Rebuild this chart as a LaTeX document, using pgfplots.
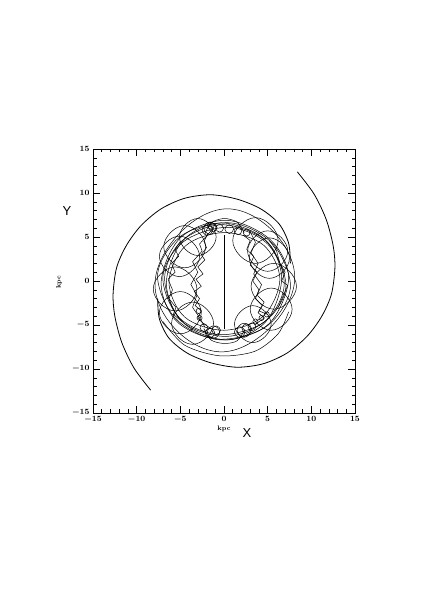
\documentclass[border=0pt]{standalone}
\usepackage{fontspec}
\usepackage{pgfplots}
\pgfplotsset{compat=1.18}
\newfontfamily\lsans{Liberation Sans}
\begin{document}
\begin{tikzpicture}
\path[use as bounding box] (0,0) rectangle (436pt,616pt);
\begin{axis}[
  at={(93pt,203pt)}, anchor=south west,
  scale only axis, width=262pt, height=264pt,
  xmin=-15, xmax=15, ymin=-15, ymax=15,
  xtick={-15,-10,...,15}, ytick={-15,-10,...,15},
  minor tick num=4, tick align=inside,
  major tick length=7pt, minor tick length=3.5pt,
  tick style={black, line width=0.5pt},
  axis line style={line width=0.6pt},
  tick label style={font=\fontsize{8.5}{9}\selectfont\boldmath},
  cycle list={{black, solid, line width=0.5pt}},
  every axis plot/.append style={black, line width=0.5pt},
  no markers,
]
% spiral arms
\addplot[smooth, line width=0.8pt] coordinates {(-8.4,-12.4) (-10.3,-9.9) (-11.7,-7.0) (-12.5,-4.0) (-12.7,-1.5) (-12.3,1.5) (-11.2,4.0) (-9.5,6.3) (-7.2,8.2) (-4.5,9.4) (-1.5,9.8) (1.5,9.3) (4.2,8.2) (6.3,6.5) (7.4,4.3) (7.6,2.0)};
\addplot[smooth, line width=0.8pt] coordinates {(8.4,12.4) (10.3,9.9) (11.7,7.0) (12.5,4.0) (12.7,1.5) (12.3,-1.5) (11.2,-4.0) (9.5,-6.3) (7.2,-8.2) (4.5,-9.4) (1.5,-9.8) (-1.5,-9.3) (-4.2,-8.2) (-6.3,-6.5) (-7.4,-4.3) (-7.6,-2.0)};
% outer loop
\addplot[smooth cycle, tension=0.83] coordinates {(8.1,0.3) (0.2,8.2) (-7.9,-0.3) (-0.1,-8.05)};
\addplot[smooth] coordinates {(-7.0,-4.6) (-4.5,-7.3) (-0.5,-8.5) (3.5,-8.0) (6.2,-6.0) (7.4,-3.5)};
% ring ovals
\addplot[smooth cycle, tension=0.56] coordinates {(7.4,0.3) (5.3,4.7) (0.2,6.9) (-5.0,4.9) (-7.2,-0.2) (-5.3,-4.7) (-0.2,-6.7) (5.1,-4.9)};
\addplot[smooth cycle, tension=0.56] coordinates {(6.9,-0.3) (4.9,4.5) (-0.3,6.4) (-5.0,4.4) (-6.8,0.2) (-4.8,-4.6) (0.3,-6.3) (4.9,-4.4)};
\addplot[smooth cycle, tension=0.56] coordinates {(6.4,0.2) (4.5,4.1) (0,5.5) (-4.4,4.0) (-6.3,-0.1) (-4.5,-4.1) (0,-5.6) (4.5,-4.0)};
\addplot[smooth cycle, tension=0.56] coordinates {(7.1,-0.6) (5.0,4.2) (0.5,6.1) (-4.6,4.5) (-7.0,0.5) (-5.1,-4.2) (-0.4,-6.1) (4.7,-4.6)};
\addplot[smooth cycle, tension=0.56] coordinates {(6.6,0.4) (4.6,4.8) (-0.4,6.6) (-4.7,4.6) (-6.6,-0.3) (-4.6,-4.8) (0.4,-6.7) (4.8,-4.6)};
\addplot[smooth cycle, tension=0.56] coordinates {(7.6,-0.8) (5.6,4.2) (0.8,6.6) (-4.8,5.2) (-7.6,0.8) (-5.6,-4.2) (-0.8,-6.6) (4.8,-5.2)};
% large loops
\addplot[smooth cycle, tension=0.83] coordinates {(-3.1,-0.9) (-5.6,1.6) (-8.1,-0.9) (-5.6,-3.4)};
\addplot[smooth cycle, tension=0.83] coordinates {(8.3,-0.6) (5.7,2.0) (3.1,-0.6) (5.7,-3.2)};
\addplot[smooth cycle, tension=0.83] coordinates {(-0.9,5.0) (-3.0,7.1) (-5.1,5.0) (-3.0,2.9)};
\addplot[smooth cycle, tension=0.83] coordinates {(6.2,4.6) (3.6,7.2) (1.0,4.6) (3.6,2.0)};
\addplot[smooth cycle, tension=0.83] coordinates {(5.4,-4.9) (3.3,-2.8) (1.2,-4.9) (3.3,-7.0)};
\addplot[smooth cycle, tension=0.83] coordinates {(-1.2,-4.8) (-3.6,-2.4) (-6.0,-4.8) (-3.6,-7.2)};
\addplot[smooth cycle, tension=0.83] coordinates {(7.5,2.6) (5.2,4.9) (2.9,2.6) (5.2,0.3)};
\addplot[smooth cycle, tension=0.83] coordinates {(-2.8,2.8) (-5.1,5.1) (-7.4,2.8) (-5.1,0.5)};
\addplot[smooth cycle, tension=0.83] coordinates {(7.8,-3.2) (5.4,-0.8) (3.0,-3.2) (5.4,-5.6)};
\addplot[smooth cycle, tension=0.83] coordinates {(-2.6,-3.6) (-5.0,-1.2) (-7.4,-3.6) (-5.0,-6.0)};
\addplot[smooth cycle, tension=0.83] coordinates {(7.3,3.4) (5.0,5.7) (2.7,3.4) (5.0,1.1)};
\addplot[smooth cycle, tension=0.83] coordinates {(-2.1,3.9) (-4.5,6.3) (-6.9,3.9) (-4.5,1.5)};
\addplot[smooth] coordinates {(-2.2,5.3) (-1.5,6.6) (0,7.1) (1.5,6.7) (2.3,5.5)};
\addplot[smooth] coordinates {(-2.3,-5.4) (-1.5,-6.7) (0,-7.1) (1.5,-6.8) (2.4,-5.5)};
% small epicycles top
\addplot[smooth cycle, tension=0.83] coordinates {(-0.9,6.0) (-1.6,6.7) (-2.3,6.0) (-1.6,5.3)};
\addplot[smooth cycle, tension=0.83] coordinates {(-0.8,6.1) (-1.3,6.6) (-1.8,6.1) (-1.3,5.6)};
\addplot[smooth cycle, tension=0.83] coordinates {(-1.3,5.8) (-1.9,6.4) (-2.5,5.8) (-1.9,5.2)};
\addplot[smooth cycle, tension=0.83] coordinates {(-1.1,6.3) (-1.5,6.7) (-1.9,6.3) (-1.5,5.9)};
\addplot[smooth cycle, tension=0.83] coordinates {(1.1,5.9) (0.6,6.4) (0.1,5.9) (0.6,5.4)};
\addplot[smooth cycle, tension=0.83] coordinates {(2.05,5.7) (1.6,6.15) (1.15,5.7) (1.6,5.25)};
\addplot[smooth cycle, tension=0.83] coordinates {(-0.05,6.0) (-0.5,6.45) (-0.95,6.0) (-0.5,5.55)};
\addplot[smooth cycle, tension=0.83] coordinates {(3.0,5.5) (2.6,5.9) (2.2,5.5) (2.6,5.1)};
% small epicycles bottom
\addplot[smooth cycle, tension=0.83] coordinates {(-0.5,-5.8) (-1.2,-5.1) (-1.9,-5.8) (-1.2,-6.5)};
\addplot[smooth cycle, tension=0.83] coordinates {(-0.4,-5.6) (-0.9,-5.1) (-1.4,-5.6) (-0.9,-6.1)};
\addplot[smooth cycle, tension=0.83] coordinates {(-1.05,-5.9) (-1.6,-5.35) (-2.15,-5.9) (-1.6,-6.45)};
\addplot[smooth cycle, tension=0.83] coordinates {(-1.85,-5.3) (-2.3,-4.85) (-2.75,-5.3) (-2.3,-5.75)};
\addplot[smooth cycle, tension=0.83] coordinates {(3.1,-5.6) (2.3,-4.8) (1.5,-5.6) (2.3,-6.4)};
\addplot[smooth cycle, tension=0.83] coordinates {(3.15,-5.4) (2.6,-4.85) (2.05,-5.4) (2.6,-5.95)};
\addplot[smooth cycle, tension=0.83] coordinates {(2.4,-5.8) (1.8,-5.2) (1.2,-5.8) (1.8,-6.4)};
\addplot[smooth cycle, tension=0.83] coordinates {(3.65,-5.2) (3.2,-4.75) (2.75,-5.2) (3.2,-5.65)};
\addplot[smooth cycle, tension=0.83] coordinates {(3.9,-4.6) (3.6,-4.3) (3.3,-4.6) (3.6,-4.9)};
\addplot[smooth cycle, tension=0.83] coordinates {(4.6,-4.2) (4.3,-3.9) (4.0,-4.2) (4.3,-4.5)};
\addplot[smooth cycle, tension=0.83] coordinates {(5.2,-3.8) (4.9,-3.5) (4.6,-3.8) (4.9,-4.1)};
\addplot[smooth cycle, tension=0.83] coordinates {(-2.5,-4.2) (-2.8,-3.9) (-3.1,-4.2) (-2.8,-4.5)};
\addplot[smooth cycle, tension=0.83] coordinates {(-2.6,-3.4) (-2.9,-3.1) (-3.2,-3.4) (-2.9,-3.7)};
% spiky traces
\addplot[sharp plot] coordinates {(-1.8,5.4) (-2.3,4.5) (-2.0,3.8) (-2.6,3.0) (-2.2,2.4) (-3.0,1.6) (-2.4,0.8) (-3.2,0.2) (-2.6,-0.6) (-3.4,-1.2) (-2.8,-2.0) (-3.3,-2.8) (-2.6,-3.4) (-3.0,-4.2) (-2.4,-4.8) (-1.5,-5.4)};
\addplot[sharp plot] coordinates {(-1.4,5.8) (-2.8,4.2) (-2.5,3.4) (-3.6,2.2) (-3.0,1.0) (-3.8,-0.4) (-3.1,-1.6) (-3.6,-3.0) (-2.9,-4.0) (-2.2,-5.2)};
\addplot[sharp plot] coordinates {(2.2,5.2) (3.0,4.6) (2.6,3.6) (3.4,2.8) (3.0,1.8) (3.8,1.0) (3.3,0.0) (4.0,-1.0) (3.6,-2.0) (4.4,-2.8) (3.9,-3.6) (4.6,-4.2) (3.5,-5.0)};
\addplot[sharp plot] coordinates {(3.0,5.6) (3.6,4.4) (3.1,3.2) (3.9,2.0) (3.4,0.8) (4.3,-0.4) (3.8,-1.6) (4.6,-2.4) (4.0,-3.4) (5.0,-3.8)};
\addplot[sharp plot] coordinates {(-5.0,4.5) (-5.6,3.6) (-5.2,2.8) (-6.0,2.0) (-5.6,1.0) (-6.4,0.2) (-5.9,-1.0) (-6.3,-2.0) (-5.5,-3.0) (-5.8,-3.8) (-4.8,-4.6)};
\addplot[sharp plot] coordinates {(5.2,4.6) (6.0,3.5) (6.4,2.0) (7.0,1.0) (6.6,0.0) (7.3,-0.5) (6.8,-1.6) (6.2,-3.0)};
% central bar line
\addplot[sharp plot, line width=0.6pt] coordinates {(0,-5.4) (0,5.2)};
\end{axis}
\node at (247pt,183pt) {\lsans\fontsize{13}{13}\selectfont X};
\node at (67pt,405pt) {\lsans\fontsize{13}{13}\selectfont Y};
\node at (224pt,187pt) {\fontsize{6.5}{7}\selectfont\bfseries kpc};
\node[rotate=90] at (59pt,334pt) {\fontsize{6.5}{7}\selectfont\bfseries kpc};
\end{tikzpicture}
\end{document}
